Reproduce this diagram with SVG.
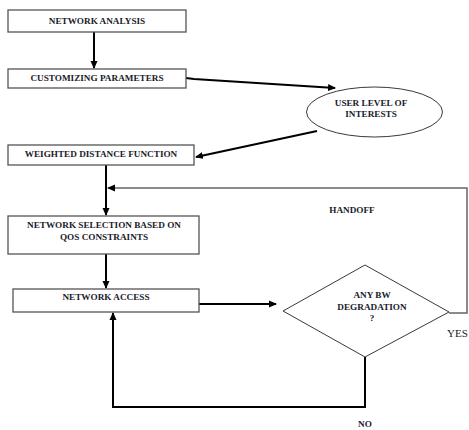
<svg xmlns="http://www.w3.org/2000/svg" width="469" height="430" viewBox="0 0 469 430">
<style>
.box{fill:#fff;stroke:#555;stroke-width:1.3}
.t{font-family:"Liberation Serif","Times New Roman",serif;font-weight:bold;font-size:9.2px;fill:#1a1a2a;text-anchor:middle}
.c{fill:none;stroke:#000;stroke-width:2}
.g{fill:none;stroke:#666;stroke-width:1.5}
.d{fill:#fff;stroke:#222;stroke-width:0.9}
</style>
<defs>
<marker id="ah" markerWidth="8" markerHeight="8" refX="7" refY="4" orient="auto" markerUnits="userSpaceOnUse">
<path d="M0,0.5 L8,4 L0,7.5 Z" fill="#000"/>
</marker>
</defs>
<rect width="469" height="430" fill="#fff"/>
<g id="connectors">
<line class="c" x1="94" y1="32" x2="94" y2="68" marker-end="url(#ah)"/>
<polyline class="c" points="186,78 194,79 335,88" marker-end="url(#ah)"/>
<line class="c" x1="317" y1="131" x2="196" y2="157" marker-end="url(#ah)"/>
<line class="c" x1="106" y1="165" x2="106" y2="215" marker-end="url(#ah)"/>
<polyline class="g" points="449,313 467,313 467,188 108,188" marker-end="url(#ah)"/>
<line class="c" x1="106" y1="254" x2="106" y2="288" marker-end="url(#ah)"/>
<line class="c" x1="199" y1="304" x2="276" y2="304" marker-end="url(#ah)"/>
<polyline class="c" points="365,357 365,407 113,407 113,313" marker-end="url(#ah)"/>
</g>
<g id="n1"><rect class="box" x="8" y="10" width="178" height="22"/><text class="t" x="97" y="24">NETWORK ANALYSIS</text></g>
<g id="n2"><rect class="box" x="8" y="69" width="178" height="19"/><text class="t" x="97" y="81">CUSTOMIZING PARAMETERS</text></g>
<g id="n3"><ellipse class="d" cx="374.5" cy="112" rx="68" ry="25"/><text class="t" x="371" y="106">USER LEVEL OF</text><text class="t" x="371" y="117">INTERESTS</text></g>
<g id="n4"><rect class="box" x="8" y="145" width="186" height="20"/><text class="t" x="101" y="157">WEIGHTED DISTANCE FUNCTION</text></g>
<g id="n5"><rect class="box" x="8" y="216" width="191" height="38"/><text class="t" x="104" y="228">NETWORK SELECTION BASED ON</text><text class="t" x="104" y="240">QOS CONSTRAINTS</text></g>
<g id="n6"><rect class="box" x="13" y="289" width="186" height="23"/><text class="t" x="106" y="300">NETWORK ACCESS</text></g>
<g id="n7"><polygon class="d" points="283,311 365,265 449,312 365,357"/><text class="t" x="372" y="298">ANY BW</text><text class="t" x="372" y="310">DEGRADATION</text><text class="t" x="372" y="321">?</text></g>
<g id="labels">
<text class="t" x="352" y="213">HANDOFF</text>
<text class="t" x="365" y="427">NO</text>
<text x="447" y="337" style="font-family:'Liberation Serif','Times New Roman',serif;font-size:11px;fill:#1a1a2a">YES</text>
</g>
</svg>
